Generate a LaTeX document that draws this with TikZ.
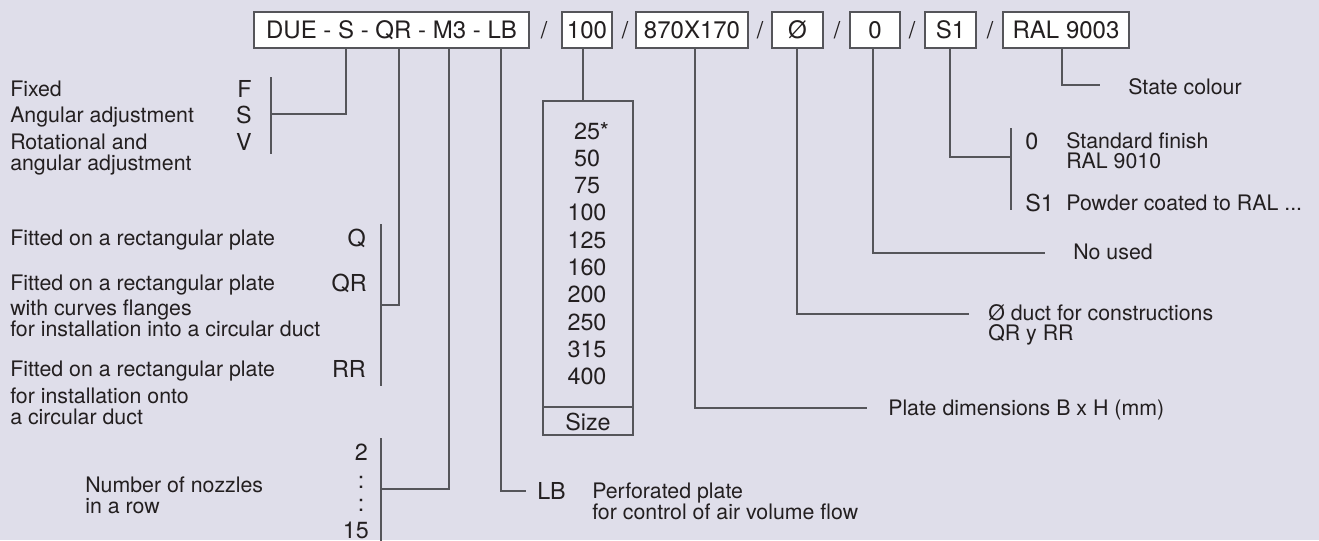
\documentclass[tikz,border=0pt]{standalone}
\usepackage{fontspec}
\setmainfont{TeX Gyre Heros}
\definecolor{bg}{RGB}{223,222,234}
\definecolor{ln}{RGB}{85,85,90}
\definecolor{tx}{RGB}{35,31,32}
\begin{document}
\begin{tikzpicture}[x=0.75pt,y=-0.75pt,
  conn/.style={draw=ln,line width=0.9pt},
  body/.style={anchor=west,inner sep=0pt,text=tx,font=\fontsize{16}{19}\selectfont,text height=11.5pt,text depth=0pt},
  code/.style={inner sep=0pt,text=tx,font=\fontsize{17.5}{21}\selectfont,text height=12.6pt,text depth=0pt},
  codebox/.style={draw=ln,line width=0.9pt,fill=white,text=tx,font=\fontsize{18}{21}\selectfont,minimum height=36*0.75pt,inner sep=0pt,text height=13pt,text depth=0pt}]
\fill[bg] (0,0) rectangle (1319,540);
\useasboundingbox (0,0) rectangle (1319,540);

% top boxes
\node[codebox,minimum width=275*0.75pt] (main) at (391.5,30) {DUE - S - QR - M3 - LB\hspace{8pt}};
\node[code] (sl1) at (544,30) {/};
\node[codebox,minimum width=50*0.75pt] (b100) at (587,30) {100};
\node[code] (sl2) at (625,30) {/};
\node[codebox,minimum width=112*0.75pt] (b870) at (692,30) {870X170};
\node[code] (sl3) at (760,30) {/};
\node[codebox,minimum width=51*0.75pt] (bphi) at (797.5,30) {Ø};
\node[code] (sl4) at (837,30) {/};
\node[codebox,minimum width=50*0.75pt] (bzero) at (875,30) {0};
\node[code] (sl5) at (912,30) {/};
\node[codebox,minimum width=51*0.75pt] (bs1) at (950.5,30) {S1};
\node[code] (sl6) at (990,30) {/};
\node[codebox,minimum width=126*0.75pt] (bral) at (1066,30) {RAL 9003};

% x positions of connectors
\coordinate (xS) at (346,0);
\coordinate (xQR) at (399,0);
\coordinate (xM) at (449,0);
\coordinate (xLB) at (501,0);
\coordinate (x100) at (583,0);
\coordinate (x870) at (695,0);
\coordinate (xphi) at (797,0);
\coordinate (xzero) at (873,0);
\coordinate (xs1) at (950,0);
\coordinate (xral) at (1062,0);

% FSV block
\node[body] (tFixed) at (10,89) {Fixed};
\node[body] (tAng) at (10,115) {Angular adjustment};
\node[body] (tRot) at (10,142) {Rotational and};
\node[body] (tRot2) at (10,163) {angular adjustment};
\node[code,anchor=east] (cF) at (252,89) {F};
\node[code,anchor=east] (cS) at (252,115) {S};
\node[code,anchor=east] (cV) at (252,142) {V};
\coordinate (bFt) at (271,77);
\coordinate (bFb) at (271,154);
\coordinate (jS) at (271,114);
\draw[conn] (bFt) -- (bFb);
\draw[conn] (main.south -| xS) |- (jS);

% Q block
\node[body] (tQ1) at (10,238) {Fitted on a rectangular plate};
\node[code,anchor=east] (cQ) at (366,238) {Q};
\node[body] (tQR1) at (10,283) {Fitted on a rectangular plate};
\node[body] (tQR2) at (10,308) {with curves flanges};
\node[body] (tQR3) at (10,329) {for installation into a circular duct};
\node[code,anchor=east] (cQR) at (367,283) {QR};
\node[body] (tRR1) at (10,369) {Fitted on a rectangular plate};
\node[body] (tRR2) at (10,396) {for installation onto};
\node[body] (tRR3) at (10,417) {a circular duct};
\node[code,anchor=east] (cRR) at (366,369) {RR};
\coordinate (bQt) at (381,224);
\coordinate (bQb) at (381,386);
\coordinate (jQR) at (381,305);
\draw[conn] (bQt) -- (bQb);
\draw[conn] (main.south -| xQR) |- (jQR);

% nozzles
\node[code,anchor=east] (n2) at (368,452) {2};
\node[code] (nd1) at (361,480) {:};
\node[code] (nd2) at (361,503) {:};
\node[code,anchor=east] (n15) at (369,530) {15};
\node[body] (tN1) at (85,485) {Number of nozzles};
\node[body] (tN2) at (85,506) {in a row};
\coordinate (bNt) at (381,438);
\coordinate (bNb) at (381,541);
\coordinate (jM) at (381,489);
\draw[conn] (bNt) -- (bNb);
\draw[conn] (main.south -| xM) |- (jM);

% LB
\coordinate (jLB) at (526,491);
\draw[conn] (main.south -| xLB) |- (jLB);
\node[code,anchor=west] (cLB) at (537,491) {LB};
\node[body] (tLB1) at (592,491) {Perforated plate};
\node[body] (tLB2) at (592,512) {for control of air volume flow};

% size box
\node[draw=ln,line width=0.9pt,minimum width=90*0.75pt,minimum height=334*0.75pt,inner sep=0pt] (sizebox) at (588,268) {};
\coordinate (sep) at (0,407);
\draw[conn] (sizebox.west |- sep) -- (sizebox.east |- sep);
\draw[conn] (b100.south -| x100) -- (sizebox.north -| x100);
\node[code] (z25) at (587,131) {25\rlap{*}};
\node[code] (z50) at (587,158) {50};
\node[code] (z75) at (587,185) {75};
\node[code] (z100) at (587,212) {100};
\node[code] (z125) at (587,240) {125};
\node[code] (z160) at (587,267) {160};
\node[code] (z200) at (587,294) {200};
\node[code] (z250) at (587,322) {250};
\node[code] (z315) at (587,349) {315};
\node[code] (z400) at (587,376) {400};
\node[code] (zsize) at (588,422) {Size};

% 870X170
\coordinate (j870) at (867,408);
\draw[conn] (b870.south -| x870) |- (j870);
\node[body] (t870) at (888,408) {Plate dimensions B x H (mm)};

% phi
\coordinate (jphi) at (969,314);
\draw[conn] (bphi.south -| xphi) |- (jphi);
\node[body] (tphi1) at (988,313) {Ø duct for constructions};
\node[body] (tphi2) at (988,333) {QR y RR};

% zero
\coordinate (jzero) at (1045,253);
\draw[conn] (bzero.south -| xzero) |- (jzero);
\node[body] (tzero) at (1073,252) {No used};

% S1
\coordinate (js1) at (1011,157);
\coordinate (bSt) at (1011,128);
\coordinate (bSb) at (1011,210);
\draw[conn] (bs1.south -| xs1) |- (js1);
\draw[conn] (bSt) -- (bSb);
\node[code,anchor=west] (c0) at (1025,141) {0};
\node[code,anchor=west] (cS1) at (1025,203) {S1};
\node[body] (tfin1) at (1066,141) {Standard finish};
\node[body] (tfin2) at (1066,161) {RAL 9010};
\node[body] (tpow) at (1066,203) {Powder coated to RAL ...};

% RAL
\coordinate (jral) at (1100,85);
\draw[conn] (bral.south -| xral) |- (jral);
\node[body] (tral) at (1128,87) {State colour};
\end{tikzpicture}
\end{document}
